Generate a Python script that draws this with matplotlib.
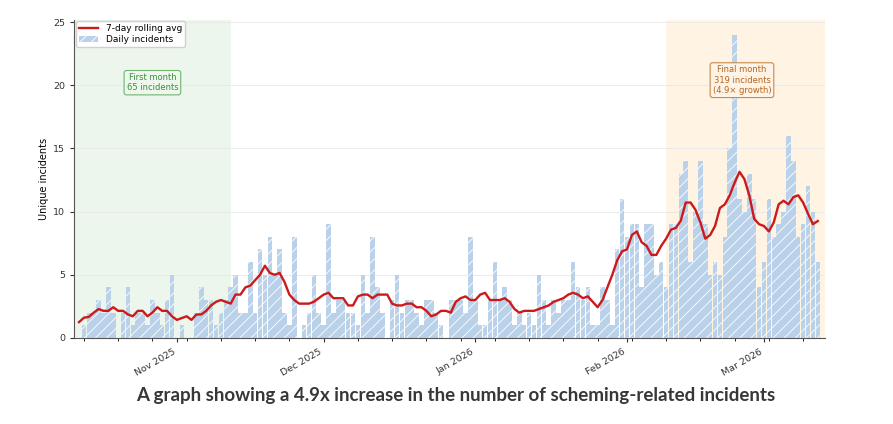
import matplotlib
matplotlib.use("Agg")
import matplotlib.pyplot as plt
import matplotlib.dates as mdates
import pandas as pd

# daily counts, 12 Oct 2025 .. 12 Mar 2026
start_date = "2025-10-12"
daily_counts = [
    0, 1, 2, 2, 3, 2, 4, 2, 0, 2,
    4, 1, 2, 2, 1, 3, 2, 1, 3, 5,
    0, 1, 0, 0, 2, 4, 3, 3, 1, 2,
    3, 4, 5, 2, 2, 6, 2, 7, 5, 8,
    5, 7, 2, 1, 8, 0, 1, 2, 5, 2,
    1, 9, 2, 3, 3, 2, 2, 1, 5, 2,
    8, 4, 2, 0, 3, 5, 2, 3, 3, 2,
    1, 3, 3, 2, 1, 0, 3, 3, 3, 2,
    8, 3, 1, 1, 3, 6, 3, 4, 3, 1,
    2, 1, 2, 1, 5, 3, 1, 3, 2, 3,
    3, 6, 4, 3, 4, 1, 1, 4, 3, 1,
    7, 11, 8, 9, 9, 4, 9, 9, 5, 6,
    4, 9, 9, 13, 14, 6, 10, 14, 9, 5,
    6, 5, 8, 15, 24, 11, 10, 13, 11, 4,
    6, 11, 8, 9, 10, 16, 14, 8, 9, 12,
    10, 6,
]
first_month_label = "First month\n65 incidents"
final_month_label = "Final month\n319 incidents\n(4.9× growth)"
caption = "A graph showing a 4.9x increase in the number of scheming-related incidents"

dates = pd.date_range(start_date, periods=len(daily_counts), freq="D")
s = pd.Series(daily_counts, index=dates)
rolling = s.rolling(7, center=True, min_periods=1).mean()

day = pd.Timedelta(days=1)
x_left = dates[0] - day
x_right = dates[-1] + 1.5 * day
first_end = dates[0] + 31 * day
last_start = dates[-1] - 31 * day

fig = plt.figure(figsize=(8.93, 4.24), dpi=100)
ax = fig.add_axes([0.083, 0.203, 0.841, 0.751])

ax.axvspan(x_left, first_end, color="#4caf50", alpha=0.10, lw=0, zorder=0)
ax.axvspan(last_start, x_right, color="#ffb347", alpha=0.15, lw=0, zorder=0)

plt.rcParams["hatch.linewidth"] = 0.6
ax.bar(dates, daily_counts, width=0.92, color="#b9d1e9", edgecolor="white",
       linewidth=0, hatch="///", label="Daily incidents", zorder=2)
ax.plot(dates, rolling.values, color="#cc1a1a", lw=1.7,
        label="7-day rolling avg", zorder=3)

ax.text(x_left + (first_end - x_left) / 2, 20.2, first_month_label,
        ha="center", va="center", fontsize=6, color="#3d8b40",
        bbox=dict(boxstyle="round,pad=0.3", fc="#eef7ec", ec="#6fb56f", lw=0.8),
        zorder=4)
ax.text(last_start + (dates[-1] - last_start) / 2, 20.4, final_month_label,
        ha="center", va="center", fontsize=6, color="#b8651b",
        bbox=dict(boxstyle="round,pad=0.3", fc="#fdf3e6", ec="#c98a4a", lw=0.8),
        zorder=4)

ax.set_xlim(x_left, x_right)
ax.set_ylim(0, 25.2)
ax.set_yticks([0, 5, 10, 15, 20, 25])
ax.yaxis.grid(True, color="#e8e8e8", lw=0.6)
ax.set_axisbelow(True)
ax.set_ylabel("Unique incidents", fontsize=7, labelpad=3)

ax.xaxis.set_major_locator(mdates.MonthLocator())
ax.xaxis.set_major_formatter(mdates.DateFormatter("%b %Y"))
ax.xaxis.set_minor_locator(mdates.WeekdayLocator(byweekday=mdates.MO))
ax.tick_params(axis="both", labelsize=6.8, colors="#333333", length=3)
ax.tick_params(axis="x", which="minor", length=2)
plt.setp(ax.get_xticklabels(), rotation=30, ha="right")

for side in ["top", "right"]:
    ax.spines[side].set_visible(False)
for side in ["left", "bottom"]:
    ax.spines[side].set_color("#555555")
    ax.spines[side].set_linewidth(0.8)

ax.legend(loc="upper left", fontsize=6.5, framealpha=0.9, borderpad=0.3,
          handlelength=2.2, labelspacing=0.2, borderaxespad=0.2)

fig.text(0.51, 0.068, caption, ha="center", va="center", fontsize=13.5,
         fontweight="bold", family=["Lato", "DejaVu Sans"], color="#363737")

fig.savefig("out.png", dpi=100)
